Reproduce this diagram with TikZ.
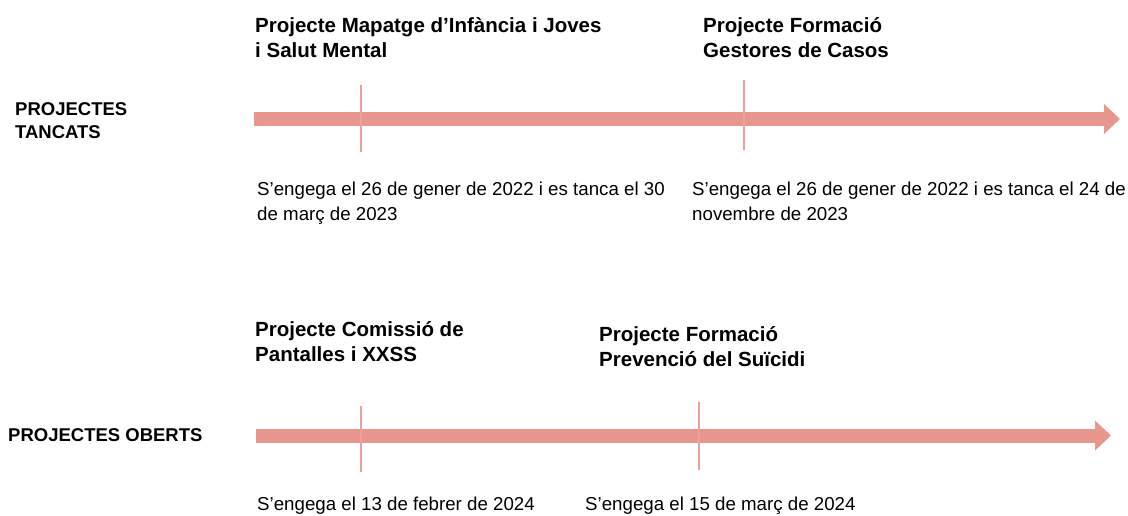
\documentclass[tikz,border=0pt]{standalone}
\usepackage{fontspec}
\setmainfont{Liberation Sans}
\usetikzlibrary{positioning,calc,arrows.meta}

\definecolor{timepink}{RGB}{232,151,143}
\definecolor{tickpink}{RGB}{236,160,155}

\tikzset{
  timeline/.style={draw=timepink, line width=14pt,
    -{Triangle[length=16pt, width=30pt, line width=0pt]}},
  tickline/.style={draw=tickpink, line width=1.1pt},
  projtitle/.style={anchor=north west, inner sep=0pt, align=left,
    font=\bfseries\fontsize{20.5}{25}\selectfont},
  projdate/.style={anchor=north west, inner sep=0pt, align=left,
    font=\fontsize{18.7}{25}\selectfont},
  grouplabel/.style={anchor=north west, inner sep=0pt, align=left,
    font=\bfseries\fontsize{18.5}{23}\selectfont}
}

\begin{document}
\begin{tikzpicture}[x=1pt, y=-1pt]
          \useasboundingbox [fill=white] (0, 0) rectangle (1128, 515);%
          % projectes tancats
          \coordinate (tancatsstart) at (254, 119);%
          \coordinate (tancatsend) at (1120, 119);%
          \draw [timeline] (tancatsstart) -- (tancatsend);%
          \draw [tickline] (361, 85) -- (361, 152);%
          \draw [tickline] (744, 80) -- (744, 150);%
          \node [grouplabel] (tancats) at (15, 102) {PROJECTES\\TANCATS};%
          \node [projtitle] (mapatge) at (255, 17) {Projecte Mapatge d’Infància i Joves\\%
            i Salut Mental};%
          \node [projtitle] (gestores) at (703, 17) {Projecte Formació\\%
            Gestores de Casos};%
          \node [projdate] (mapatgedate) at (257, 182) {S’engega el 26 de gener de 2022 i es tanca el 30\\%
            de març de 2023};%
          \node [projdate] (gestoresdate) at (692, 182) {S’engega el 26 de gener de 2022 i es tanca el 24 de\\%
            novembre de 2023};%
          % projectes oberts
          \coordinate (obertsstart) at (256, 435.5);%
          \coordinate (obertsend) at (1111, 435.5);%
          \draw [timeline] (obertsstart) -- (obertsend);%
          \draw [tickline] (361, 406) -- (361, 472);%
          \draw [tickline] (699, 402) -- (699, 470);%
          \node [grouplabel] (oberts) at (8, 428) {PROJECTES OBERTS};%
          \node [projtitle] (pantalles) at (255, 321) {Projecte Comissió de\\%
            Pantalles i XXSS};%
          \node [projtitle] (suicidi) at (599, 326) {Projecte Formació\\%
            Prevenció del Suïcidi};%
          \node [projdate] (pantallesdate) at (257, 497) {S’engega el 13 de febrer de 2024};%
          \node [projdate] (suicididate) at (585, 497) {S’engega el 15 de març de 2024};%
        \end{tikzpicture}
\end{document}
